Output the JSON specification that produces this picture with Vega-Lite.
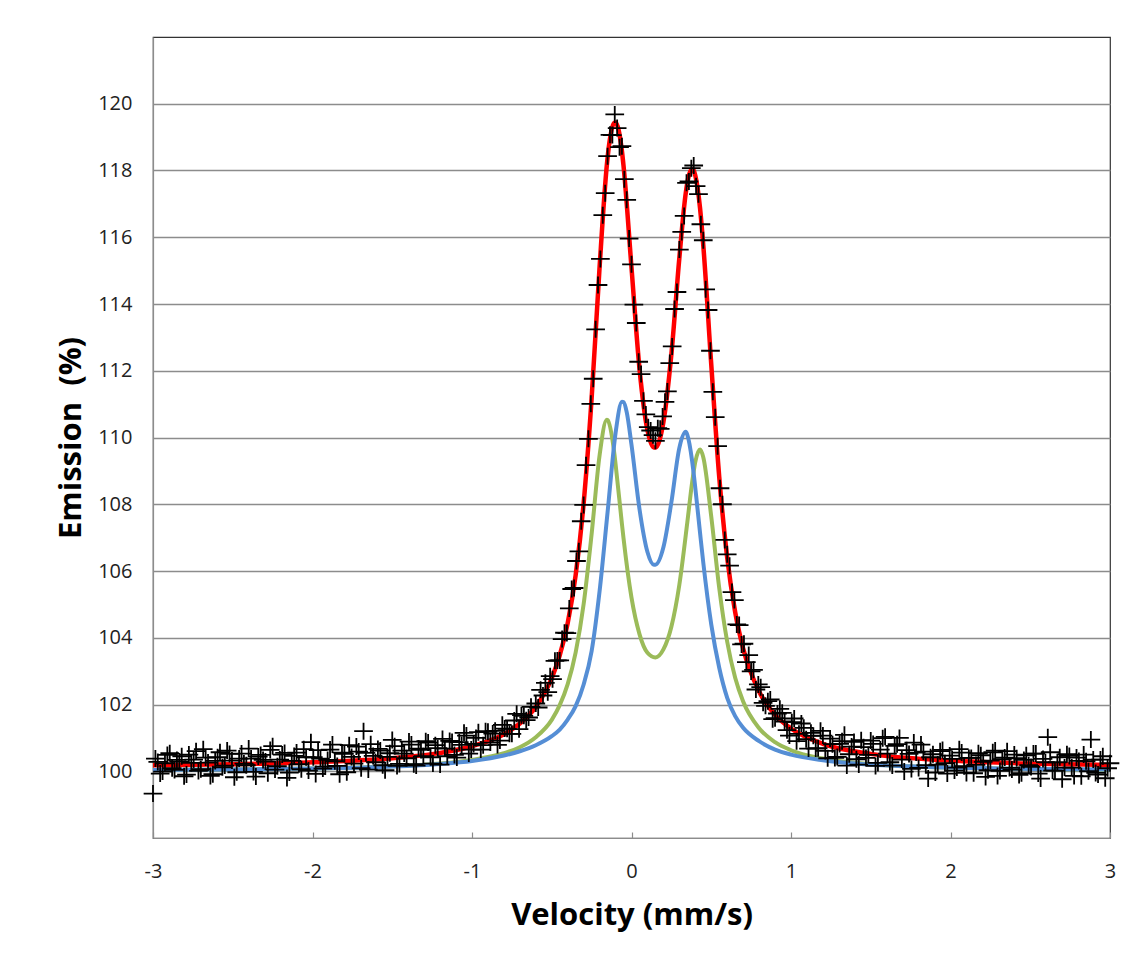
{
  "$schema": "https://vega.github.io/schema/vega-lite/v6.json",
  "width": 957,
  "height": 801,
  "autosize": {"type": "none"},
  "padding": {"left": 153, "top": 37, "right": 25, "bottom": 128},
  "background": "white",
  "config": {
    "view": {"stroke": "#333333", "strokeWidth": 1.2},
    "axis": {"labelFont": "Open Sans", "titleFont": "Open Sans", "labelColor": "#222222", "titleColor": "#000000"}
  },
  "datasets": {
    "curves": [
      {"s":"b","v":-3,"e":100.04},{"s":"b","v":-2.5,"e":100.05},{"s":"b","v":-2,"e":100.08},{"s":"b","v":-1.5,"e":100.14},{"s":"b","v":-1.2,"e":100.22},{"s":"b","v":-1,"e":100.31},{"s":"b","v":-0.8,"e":100.47},{"s":"b","v":-0.7,"e":100.6},{"s":"b","v":-0.6,"e":100.78},{"s":"b","v":-0.5,"e":101.05},{"s":"b","v":-0.45,"e":101.25},{"s":"b","v":-0.4,"e":101.55},{"s":"b","v":-0.35,"e":101.95},{"s":"b","v":-0.3,"e":102.6},{"s":"b","v":-0.25,"e":103.6},{"s":"b","v":-0.2,"e":105.4},{"s":"b","v":-0.15,"e":107.76},{"s":"b","v":-0.1,"e":110.13},{"s":"b","v":-0.06,"e":111.07},{"s":"b","v":-0.05,"e":111.06},{"s":"b","v":-0.03,"e":110.76},{"s":"b","v":0,"e":109.78},{"s":"b","v":0.05,"e":107.86},{"s":"b","v":0.1,"e":106.57},{"s":"b","v":0.14,"e":106.19},{"s":"b","v":0.15,"e":106.19},{"s":"b","v":0.2,"e":106.71},{"s":"b","v":0.25,"e":108.06},{"s":"b","v":0.3,"e":109.69},{"s":"b","v":0.34,"e":110.17},{"s":"b","v":0.35,"e":110.08},{"s":"b","v":0.38,"e":109.3},{"s":"b","v":0.4,"e":108.49},{"s":"b","v":0.43,"e":107.13},{"s":"b","v":0.45,"e":106.25},{"s":"b","v":0.5,"e":104.4},{"s":"b","v":0.55,"e":103.1},{"s":"b","v":0.6,"e":102.2},{"s":"b","v":0.65,"e":101.65},{"s":"b","v":0.7,"e":101.3},{"s":"b","v":0.8,"e":100.9},{"s":"b","v":0.9,"e":100.65},{"s":"b","v":1,"e":100.5},{"s":"b","v":1.2,"e":100.33},{"s":"b","v":1.5,"e":100.2},{"s":"b","v":2,"e":100.11},{"s":"b","v":2.5,"e":100.07},{"s":"b","v":3,"e":100.05},
      {"s":"g","v":-3,"e":100.04},{"s":"g","v":-2.5,"e":100.05},{"s":"g","v":-2,"e":100.08},{"s":"g","v":-1.5,"e":100.15},{"s":"g","v":-1.2,"e":100.23},{"s":"g","v":-1,"e":100.34},{"s":"g","v":-0.8,"e":100.54},{"s":"g","v":-0.7,"e":100.72},{"s":"g","v":-0.6,"e":101.02},{"s":"g","v":-0.5,"e":101.54},{"s":"g","v":-0.45,"e":101.98},{"s":"g","v":-0.4,"e":102.61},{"s":"g","v":-0.35,"e":103.56},{"s":"g","v":-0.3,"e":105.01},{"s":"g","v":-0.25,"e":107.11},{"s":"g","v":-0.2,"e":109.47},{"s":"g","v":-0.155,"e":110.53},{"s":"g","v":-0.15,"e":110.52},{"s":"g","v":-0.11,"e":109.61},{"s":"g","v":-0.1,"e":109.21},{"s":"g","v":-0.06,"e":107.41},{"s":"g","v":-0.05,"e":106.98},{"s":"g","v":0,"e":105.2},{"s":"g","v":0.05,"e":104.11},{"s":"g","v":0.1,"e":103.55},{"s":"g","v":0.15,"e":103.41},{"s":"g","v":0.2,"e":103.65},{"s":"g","v":0.25,"e":104.33},{"s":"g","v":0.3,"e":105.59},{"s":"g","v":0.35,"e":107.46},{"s":"g","v":0.38,"e":108.65},{"s":"g","v":0.4,"e":109.27},{"s":"g","v":0.43,"e":109.64},{"s":"g","v":0.45,"e":109.41},{"s":"g","v":0.5,"e":107.63},{"s":"g","v":0.55,"e":105.49},{"s":"g","v":0.6,"e":103.88},{"s":"g","v":0.65,"e":102.8},{"s":"g","v":0.7,"e":102.09},{"s":"g","v":0.8,"e":101.29},{"s":"g","v":0.9,"e":100.87},{"s":"g","v":1,"e":100.63},{"s":"g","v":1.2,"e":100.38},{"s":"g","v":1.5,"e":100.21},{"s":"g","v":2,"e":100.11},{"s":"g","v":2.5,"e":100.07},{"s":"g","v":3,"e":100.04},
      {"s":"r","v":-3,"e":100.18},{"s":"r","v":-2.5,"e":100.21},{"s":"r","v":-2,"e":100.27},{"s":"r","v":-1.5,"e":100.39},{"s":"r","v":-1.2,"e":100.55},{"s":"r","v":-1,"e":100.75},{"s":"r","v":-0.8,"e":101.11},{"s":"r","v":-0.7,"e":101.43},{"s":"r","v":-0.6,"e":101.93},{"s":"r","v":-0.5,"e":102.79},{"s":"r","v":-0.45,"e":103.47},{"s":"r","v":-0.4,"e":104.44},{"s":"r","v":-0.35,"e":105.88},{"s":"r","v":-0.3,"e":108.03},{"s":"r","v":-0.25,"e":111.17},{"s":"r","v":-0.2,"e":115.11},{"s":"r","v":-0.155,"e":118.14},{"s":"r","v":-0.15,"e":118.38},{"s":"r","v":-0.13,"e":119.09},{"s":"r","v":-0.11,"e":119.42},{"s":"r","v":-0.1,"e":119.44},{"s":"r","v":-0.08,"e":119.2},{"s":"r","v":-0.06,"e":118.58},{"s":"r","v":-0.05,"e":118.14},{"s":"r","v":0,"e":115.09},{"s":"r","v":0.05,"e":112.07},{"s":"r","v":0.1,"e":110.22},{"s":"r","v":0.14,"e":109.7},{"s":"r","v":0.15,"e":109.7},{"s":"r","v":0.2,"e":110.46},{"s":"r","v":0.25,"e":112.49},{"s":"r","v":0.3,"e":115.38},{"s":"r","v":0.34,"e":117.32},{"s":"r","v":0.36,"e":117.86},{"s":"r","v":0.38,"e":118.04},{"s":"r","v":0.39,"e":118.0},{"s":"r","v":0.4,"e":117.85},{"s":"r","v":0.43,"e":116.86},{"s":"r","v":0.45,"e":115.76},{"s":"r","v":0.5,"e":112.19},{"s":"r","v":0.55,"e":108.82},{"s":"r","v":0.6,"e":106.4},{"s":"r","v":0.65,"e":104.77},{"s":"r","v":0.7,"e":103.68},{"s":"r","v":0.8,"e":102.39},{"s":"r","v":0.9,"e":101.69},{"s":"r","v":1,"e":101.28},{"s":"r","v":1.2,"e":100.82},{"s":"r","v":1.5,"e":100.52},{"s":"r","v":2,"e":100.32},{"s":"r","v":2.5,"e":100.23},{"s":"r","v":3,"e":100.19}
    ],
    "pts": [
      {"v":-3,"e":99.33},{"v":-2.97,"e":100.28},{"v":-2.94,"e":99.99},{"v":-2.91,"e":100.49},{"v":-2.88,"e":100.09},{"v":-2.85,"e":100.34},{"v":-2.82,"e":100.45},{"v":-2.79,"e":99.9},{"v":-2.76,"e":100.25},{"v":-2.73,"e":100.6},{"v":-2.7,"e":100.06},{"v":-2.67,"e":100.41},{"v":-2.64,"e":99.86},{"v":-2.61,"e":100.31},{"v":-2.58,"e":100.57},{"v":-2.55,"e":100.17},{"v":-2.52,"e":100.52},{"v":-2.49,"e":99.82},{"v":-2.46,"e":100.38},{"v":-2.43,"e":100.23},{"v":-2.4,"e":100.68},{"v":-2.37,"e":99.98},{"v":-2.34,"e":100.44},{"v":-2.31,"e":100.34},{"v":-2.28,"e":99.94},{"v":-2.25,"e":100.75},{"v":-2.22,"e":100.15},{"v":-2.19,"e":100.5},{"v":-2.16,"e":99.8},{"v":-2.13,"e":100.31},{"v":-2.1,"e":100.56},{"v":-2.07,"e":100.06},{"v":-2.04,"e":100.42},{"v":-2.01,"e":100.87},{"v":-1.98,"e":99.92},{"v":-1.95,"e":100.38},{"v":-1.92,"e":100.14},{"v":-1.89,"e":100.65},{"v":-1.86,"e":100.3},{"v":-1.83,"e":99.91},{"v":-1.8,"e":100.52},{"v":-1.77,"e":100.78},{"v":-1.74,"e":100.23},{"v":-1.71,"e":100.59},{"v":-1.68,"e":101.2},{"v":-1.65,"e":100.05},{"v":-1.62,"e":100.46},{"v":-1.59,"e":100.67},{"v":-1.56,"e":100.18},{"v":-1.53,"e":100.43},{"v":-1.5,"e":100.94},{"v":-1.47,"e":100.16},{"v":-1.44,"e":100.62},{"v":-1.41,"e":100.39},{"v":-1.38,"e":100.8},{"v":-1.35,"e":100.17},{"v":-1.32,"e":100.64},{"v":-1.29,"e":100.9},{"v":-1.26,"e":100.42},{"v":-1.23,"e":100.78},{"v":-1.2,"e":100.2},{"v":-1.17,"e":100.68},{"v":-1.14,"e":100.91},{"v":-1.11,"e":100.49},{"v":-1.08,"e":100.87},{"v":-1.05,"e":101.15},{"v":-1.02,"e":100.53},{"v":-0.99,"e":100.82},{"v":-0.96,"e":101.17},{"v":-0.93,"e":100.78},{"v":-0.9,"e":101.18},{"v":-0.87,"e":101.13},{"v":-0.84,"e":100.79},{"v":-0.81,"e":101.39},{"v":-0.78,"e":101.27},{"v":-0.75,"e":101.12},{"v":-0.72,"e":101.72},{"v":-0.69,"e":101.68},{"v":-0.66,"e":101.53},{"v":-0.63,"e":101.93},
      {"v":-2.985,"e":100.38},{"v":-2.955,"e":99.93},{"v":-2.925,"e":100.24},{"v":-2.895,"e":100.54},{"v":-2.865,"e":100.04},{"v":-2.835,"e":100.29},{"v":-2.805,"e":99.85},{"v":-2.775,"e":100.5},{"v":-2.745,"e":100.35},{"v":-2.715,"e":100.01},{"v":-2.685,"e":100.66},{"v":-2.655,"e":100.26},{"v":-2.625,"e":99.91},{"v":-2.595,"e":100.42},{"v":-2.565,"e":100.12},{"v":-2.535,"e":100.62},{"v":-2.505,"e":100.32},{"v":-2.475,"e":99.97},{"v":-2.445,"e":100.53},{"v":-2.415,"e":100.18},{"v":-2.385,"e":100.38},{"v":-2.355,"e":99.84},{"v":-2.325,"e":100.49},{"v":-2.295,"e":100.29},{"v":-2.265,"e":100.64},{"v":-2.235,"e":100.05},{"v":-2.205,"e":100.35},{"v":-2.175,"e":100.55},{"v":-2.145,"e":99.96},{"v":-2.115,"e":100.46},{"v":-2.085,"e":100.21},{"v":-2.055,"e":100.66},{"v":-2.025,"e":100.02},{"v":-1.995,"e":100.42},{"v":-1.965,"e":100.63},{"v":-1.935,"e":100.08},{"v":-1.905,"e":100.34},{"v":-1.875,"e":100.8},{"v":-1.845,"e":100.16},{"v":-1.815,"e":100.56},{"v":-1.785,"e":99.97},{"v":-1.755,"e":100.43},{"v":-1.725,"e":100.74},{"v":-1.695,"e":100.09},{"v":-1.665,"e":100.55},{"v":-1.635,"e":100.81},{"v":-1.605,"e":100.27},{"v":-1.575,"e":100.62},{"v":-1.545,"e":100.03},{"v":-1.515,"e":100.54},{"v":-1.485,"e":100.75},{"v":-1.455,"e":100.22},{"v":-1.425,"e":100.53},{"v":-1.395,"e":100.89},{"v":-1.365,"e":100.21},{"v":-1.335,"e":100.68},{"v":-1.305,"e":100.45},{"v":-1.275,"e":100.86},{"v":-1.245,"e":100.23},{"v":-1.215,"e":100.69},{"v":-1.185,"e":100.97},{"v":-1.155,"e":100.45},{"v":-1.125,"e":100.88},{"v":-1.095,"e":100.41},{"v":-1.065,"e":100.79},{"v":-1.035,"e":101.07},{"v":-1.005,"e":100.65},{"v":-0.975,"e":101.0},{"v":-0.945,"e":100.65},{"v":-0.915,"e":101.2},{"v":-0.885,"e":100.86},{"v":-0.855,"e":101.21},{"v":-0.825,"e":100.92},{"v":-0.795,"e":101.28},{"v":-0.765,"e":101.12},{"v":-0.735,"e":101.52},{"v":-0.705,"e":101.26},{"v":-0.675,"e":101.66},{"v":-0.645,"e":101.61},
      {"v":-0.6,"e":102.03},{"v":-0.585,"e":101.91},{"v":-0.57,"e":102.44},{"v":-0.555,"e":102.27},{"v":-0.54,"e":102.65},{"v":-0.525,"e":102.37},{"v":-0.51,"e":102.85},{"v":-0.495,"e":102.76},{"v":-0.48,"e":103.31},{"v":-0.465,"e":103.32},{"v":-0.45,"e":103.32},{"v":-0.435,"e":103.96},{"v":-0.42,"e":104.15},{"v":-0.405,"e":104.14},{"v":-0.39,"e":104.88},{"v":-0.375,"e":105.46},{"v":-0.36,"e":105.49},{"v":-0.345,"e":106.3},{"v":-0.33,"e":106.59},{"v":-0.315,"e":107.49},{"v":-0.3,"e":107.98},{"v":-0.285,"e":109.17},{"v":-0.27,"e":109.96},{"v":-0.255,"e":111.01},{"v":-0.24,"e":111.76},{"v":-0.225,"e":113.24},{"v":-0.21,"e":114.57},{"v":-0.195,"e":115.35},{"v":-0.18,"e":116.66},{"v":-0.165,"e":117.32},{"v":-0.15,"e":118.43},{"v":-0.135,"e":119.07},{"v":-0.12,"e":119.06},{"v":-0.105,"e":119.68},{"v":-0.09,"e":119.27},{"v":-0.075,"e":118.7},{"v":-0.06,"e":118.73},{"v":-0.045,"e":117.74},{"v":-0.03,"e":117.12},{"v":-0.015,"e":115.96},{"v":0,"e":115.19},{"v":0.015,"e":113.98},{"v":0.03,"e":113.43},{"v":0.045,"e":112.27},{"v":0.06,"e":111.9},{"v":0.075,"e":111.1},{"v":0.09,"e":110.69},{"v":0.105,"e":110.31},{"v":0.12,"e":110.21},{"v":0.135,"e":110.07},{"v":0.15,"e":109.9},{"v":0.165,"e":110.28},{"v":0.18,"e":110.26},{"v":0.195,"e":110.63},{"v":0.21,"e":111.07},{"v":0.225,"e":111.38},{"v":0.24,"e":112.23},{"v":0.255,"e":112.73},{"v":0.27,"e":113.85},{"v":0.285,"e":114.36},{"v":0.3,"e":115.63},{"v":0.315,"e":116.16},{"v":0.33,"e":116.64},{"v":0.345,"e":117.63},{"v":0.36,"e":117.67},{"v":0.375,"e":118.07},{"v":0.39,"e":118.15},{"v":0.405,"e":117.53},{"v":0.42,"e":117.29},{"v":0.435,"e":116.39},{"v":0.45,"e":115.91},{"v":0.465,"e":114.44},{"v":0.48,"e":113.82},{"v":0.495,"e":112.6},{"v":0.51,"e":111.37},{"v":0.525,"e":110.61},{"v":0.54,"e":109.74},{"v":0.555,"e":108.48},{"v":0.57,"e":108.0},{"v":0.585,"e":106.93},{"v":0.6,"e":106.5},{"v":0.615,"e":106.16},{"v":0.63,"e":105.37},{"v":0.645,"e":105.13},{"v":0.66,"e":104.4},{"v":0.675,"e":104.38},{"v":0.69,"e":103.8},{"v":0.705,"e":103.82},{"v":0.72,"e":103.27},{"v":0.735,"e":103.48},{"v":0.75,"e":102.99},{"v":0.765,"e":103.04},{"v":0.78,"e":102.45},{"v":0.795,"e":102.6},
      {"v":0.81,"e":102.52},{"v":0.84,"e":101.96},{"v":0.87,"e":102.15},{"v":0.9,"e":101.59},{"v":0.93,"e":101.87},{"v":0.96,"e":101.49},{"v":0.99,"e":101.07},{"v":1.02,"e":101.58},{"v":1.05,"e":101.12},{"v":1.08,"e":101.3},{"v":1.11,"e":100.68},{"v":1.14,"e":101.06},{"v":1.17,"e":100.69},{"v":1.2,"e":101.07},{"v":1.23,"e":100.39},{"v":1.26,"e":100.81},{"v":1.29,"e":100.43},{"v":1.32,"e":100.9},{"v":1.35,"e":100.17},{"v":1.38,"e":100.74},{"v":1.41,"e":100.36},{"v":1.44,"e":100.93},{"v":1.47,"e":100.4},{"v":1.5,"e":100.92},{"v":1.53,"e":100.16},{"v":1.56,"e":100.65},{"v":1.59,"e":101.03},{"v":1.62,"e":100.27},{"v":1.65,"e":100.76},{"v":1.68,"e":101.0},{"v":1.71,"e":99.99},{"v":1.74,"e":100.52},{"v":1.77,"e":100.86},{"v":1.8,"e":100.1},{"v":1.83,"e":100.59},{"v":1.86,"e":99.78},{"v":1.89,"e":100.51},{"v":1.92,"e":100.2},{"v":1.95,"e":100.64},{"v":1.98,"e":99.93},{"v":2.01,"e":100.37},{"v":2.04,"e":100.11},{"v":2.07,"e":100.56},{"v":2.1,"e":99.95},{"v":2.13,"e":100.4},{"v":2.16,"e":100.19},{"v":2.19,"e":100.48},{"v":2.22,"e":99.83},{"v":2.25,"e":100.32},{"v":2.28,"e":100.62},{"v":2.31,"e":100.01},{"v":2.34,"e":100.41},{"v":2.37,"e":100.1},{"v":2.4,"e":100.5},{"v":2.43,"e":99.89},{"v":2.46,"e":100.34},{"v":2.49,"e":100.18},{"v":2.52,"e":100.53},{"v":2.55,"e":99.93},{"v":2.58,"e":100.37},{"v":2.61,"e":101.02},{"v":2.64,"e":100.02},{"v":2.67,"e":100.27},{"v":2.7,"e":99.76},{"v":2.73,"e":100.51},{"v":2.76,"e":100.11},{"v":2.79,"e":100.41},{"v":2.82,"e":99.85},{"v":2.85,"e":100.3},{"v":2.88,"e":100.95},{"v":2.91,"e":99.95},{"v":2.94,"e":100.35},{"v":2.97,"e":99.79},{"v":3,"e":100.24},
      {"v":0.825,"e":102.05},{"v":0.855,"e":102.1},{"v":0.885,"e":101.56},{"v":0.915,"e":101.73},{"v":0.945,"e":101.75},{"v":0.975,"e":101.23},{"v":1.005,"e":101.47},{"v":1.035,"e":100.9},{"v":1.065,"e":101.43},{"v":1.095,"e":100.96},{"v":1.125,"e":101.15},{"v":1.155,"e":100.68},{"v":1.185,"e":101.21},{"v":1.215,"e":100.61},{"v":1.245,"e":100.98},{"v":1.275,"e":100.4},{"v":1.305,"e":100.82},{"v":1.335,"e":101.09},{"v":1.365,"e":100.51},{"v":1.395,"e":100.88},{"v":1.425,"e":100.2},{"v":1.455,"e":100.72},{"v":1.485,"e":100.49},{"v":1.515,"e":100.82},{"v":1.545,"e":100.25},{"v":1.575,"e":100.99},{"v":1.605,"e":100.53},{"v":1.635,"e":100.17},{"v":1.665,"e":100.81},{"v":1.695,"e":100.35},{"v":1.725,"e":100.63},{"v":1.755,"e":100.07},{"v":1.785,"e":100.56},{"v":1.815,"e":100.8},{"v":1.845,"e":100.18},{"v":1.875,"e":100.42},{"v":1.905,"e":99.96},{"v":1.935,"e":100.6},{"v":1.965,"e":100.24},{"v":1.995,"e":100.47},{"v":2.025,"e":100.02},{"v":2.055,"e":100.66},{"v":2.085,"e":100.15},{"v":2.115,"e":100.4},{"v":2.145,"e":99.94},{"v":2.175,"e":100.54},{"v":2.205,"e":100.28},{"v":2.235,"e":100.03},{"v":2.265,"e":100.57},{"v":2.295,"e":99.86},{"v":2.325,"e":100.36},{"v":2.355,"e":100.6},{"v":2.385,"e":100.05},{"v":2.415,"e":100.39},{"v":2.445,"e":99.94},{"v":2.475,"e":100.48},{"v":2.505,"e":100.13},{"v":2.535,"e":100.53},{"v":2.565,"e":99.78},{"v":2.595,"e":100.27},{"v":2.625,"e":100.57},{"v":2.655,"e":100.02},{"v":2.685,"e":100.42},{"v":2.715,"e":100.11},{"v":2.745,"e":100.46},{"v":2.775,"e":99.86},{"v":2.805,"e":100.31},{"v":2.835,"e":100.5},{"v":2.865,"e":100.0},{"v":2.895,"e":100.35},{"v":2.925,"e":99.9},{"v":2.955,"e":100.45},{"v":2.985,"e":100.09}
    ]
  },
  "encoding": {
    "x": {
      "field": "v", "type": "quantitative",
      "scale": {"domain": [-3, 3], "nice": false, "zero": false},
      "axis": {
        "values": [-3, -2, -1, 0, 1, 2, 3],
        "labelExpr": "replace(datum.label, '\u2212', '-')",
        "grid": false,
        "tickSize": -6, "tickColor": "#8c8c8c", "tickWidth": 1.2,
        "domainColor": "#8c8c8c", "domainWidth": 1.2,
        "labelFontSize": 20, "labelBaseline": "alphabetic", "labelPadding": 45,
        "labelFlush": false, "labelOverlap": false,
        "title": "Velocity (mm/s)", "titleFontSize": 31, "titleFontWeight": "bold",
        "titleBaseline": "alphabetic", "titleY": 86, "titleX": 478.5
      }
    },
    "y": {
      "field": "e", "type": "quantitative",
      "scale": {"domain": [98, 122], "nice": false, "zero": false},
      "axis": {
        "values": [100, 102, 104, 106, 108, 110, 112, 114, 116, 118, 120],
        "grid": true, "gridColor": "#8c8c8c", "gridWidth": 1.3,
        "ticks": false,
        "domainColor": "#8c8c8c", "domainWidth": 1.2,
        "labelFontSize": 20, "labelPadding": 21, "labelFlush": false,
        "title": "Emission\u00a0\u00a0(%)", "titleFontSize": 31, "titleFontWeight": "bold",
        "titleBaseline": "alphabetic", "titleX": -73, "titleY": 400.5
      }
    }
  },
  "layer": [
    {
      "data": {"name": "curves"},
      "transform": [{"filter": "datum.s === 'g'"}],
      "mark": {"type": "line", "color": "#9bbb59", "strokeWidth": 4, "interpolate": "monotone"}
    },
    {
      "data": {"name": "curves"},
      "transform": [{"filter": "datum.s === 'b'"}],
      "mark": {"type": "line", "color": "#558ed5", "strokeWidth": 4, "interpolate": "monotone"}
    },
    {
      "data": {"name": "curves"},
      "transform": [{"filter": "datum.s === 'r'"}],
      "mark": {"type": "line", "color": "#ff0000", "strokeWidth": 4.5, "interpolate": "monotone"}
    },
    {
      "data": {"name": "pts"},
      "mark": {"type": "point", "shape": "M-1.1,0H1.1M0,-1V1", "size": 289, "filled": false, "stroke": "#000000", "strokeWidth": 1.8, "opacity": 1}
    }
  ]
}
